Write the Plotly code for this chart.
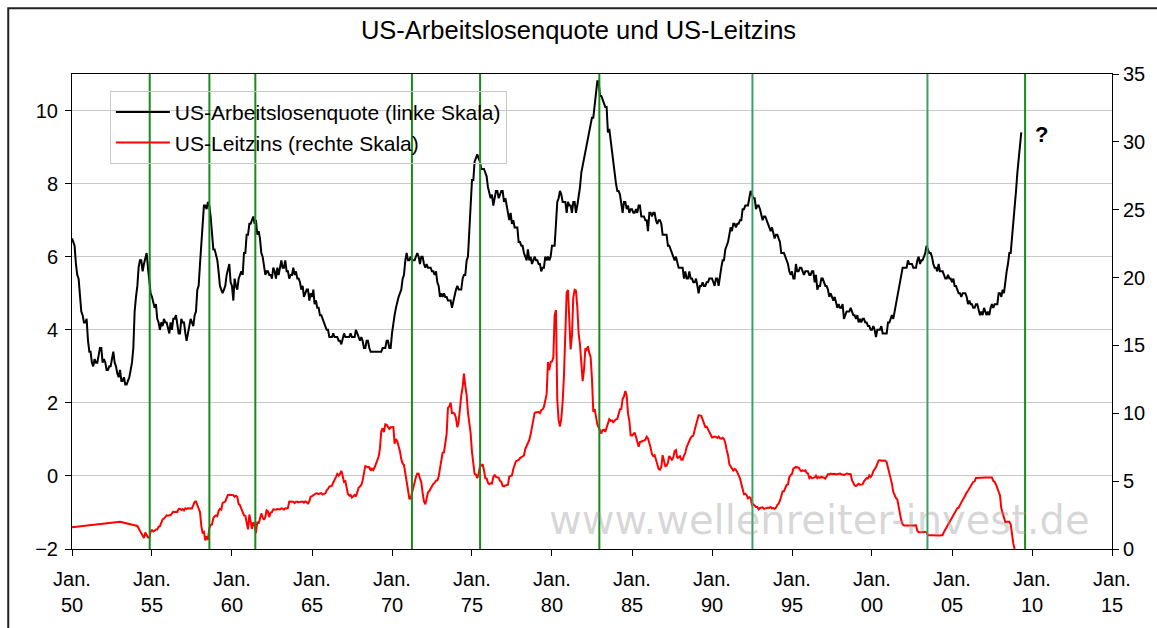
import pandas as pd
import plotly.graph_objects as go

# ---------------- data ----------------
# US unemployment rate (%), monthly, Jan 1950 .. May 2009 (left scale)
unemployment_rate = [
    6.5, 6.4, 6.3, 5.8, 5.5, 5.4, 5.0, 4.5, 4.4, 4.2, 4.2, 4.3,   # 1950
    3.7, 3.4, 3.4, 3.1, 3.0, 3.2, 3.1, 3.1, 3.3, 3.5, 3.5, 3.1,   # 1951
    3.2, 3.1, 2.9, 2.9, 3.0, 3.0, 3.2, 3.4, 3.1, 3.0, 2.8, 2.7,   # 1952
    2.9, 2.6, 2.6, 2.7, 2.5, 2.5, 2.6, 2.7, 2.9, 3.1, 3.5, 4.5,   # 1953
    4.9, 5.2, 5.7, 5.9, 5.9, 5.6, 5.8, 6.0, 6.1, 5.7, 5.3, 5.0,   # 1954
    4.9, 4.7, 4.6, 4.7, 4.3, 4.2, 4.0, 4.2, 4.1, 4.3, 4.2, 4.2,   # 1955
    4.0, 3.9, 4.2, 4.0, 4.3, 4.3, 4.4, 4.1, 3.9, 3.9, 4.3, 4.2,   # 1956
    4.2, 3.9, 3.7, 3.9, 4.1, 4.3, 4.2, 4.1, 4.4, 4.5, 5.1, 5.2,   # 1957
    5.8, 6.4, 6.7, 7.4, 7.4, 7.3, 7.5, 7.4, 7.1, 6.7, 6.2, 6.2,   # 1958
    6.0, 5.9, 5.6, 5.2, 5.1, 5.0, 5.1, 5.2, 5.5, 5.7, 5.8, 5.3,   # 1959
    5.2, 4.8, 5.4, 5.2, 5.1, 5.4, 5.5, 5.6, 5.5, 6.1, 6.1, 6.6,   # 1960
    6.6, 6.9, 6.9, 7.0, 7.1, 6.9, 7.0, 6.6, 6.7, 6.5, 6.1, 6.0,   # 1961
    5.8, 5.5, 5.6, 5.6, 5.5, 5.5, 5.4, 5.7, 5.6, 5.4, 5.7, 5.5,   # 1962
    5.7, 5.9, 5.7, 5.7, 5.9, 5.6, 5.6, 5.4, 5.5, 5.5, 5.7, 5.5,   # 1963
    5.6, 5.4, 5.4, 5.3, 5.1, 5.2, 4.9, 5.0, 5.1, 5.1, 4.8, 5.0,   # 1964
    4.9, 5.1, 4.7, 4.8, 4.6, 4.6, 4.4, 4.4, 4.3, 4.2, 4.1, 4.0,   # 1965
    4.0, 3.8, 3.8, 3.8, 3.9, 3.8, 3.8, 3.8, 3.7, 3.7, 3.6, 3.8,   # 1966
    3.9, 3.8, 3.8, 3.8, 3.8, 3.9, 3.8, 3.8, 3.8, 4.0, 3.9, 3.8,   # 1967
    3.7, 3.8, 3.7, 3.5, 3.5, 3.7, 3.7, 3.5, 3.4, 3.4, 3.4, 3.4,   # 1968
    3.4, 3.4, 3.4, 3.4, 3.4, 3.5, 3.5, 3.5, 3.7, 3.7, 3.5, 3.5,   # 1969
    3.9, 4.2, 4.4, 4.6, 4.8, 4.9, 5.0, 5.1, 5.4, 5.5, 5.9, 6.1,   # 1970
    5.9, 5.9, 6.0, 5.9, 5.9, 5.9, 6.0, 6.1, 6.0, 5.8, 6.0, 6.0,   # 1971
    5.8, 5.7, 5.8, 5.7, 5.7, 5.7, 5.6, 5.6, 5.5, 5.6, 5.3, 5.2,   # 1972
    4.9, 5.0, 4.9, 5.0, 4.9, 4.9, 4.8, 4.8, 4.8, 4.6, 4.8, 4.9,   # 1973
    5.1, 5.2, 5.1, 5.1, 5.1, 5.4, 5.5, 5.5, 5.9, 6.0, 6.6, 7.2,   # 1974
    8.1, 8.1, 8.6, 8.7, 8.8, 8.7, 8.6, 8.4, 8.4, 8.4, 8.3, 8.2,   # 1975
    7.9, 7.7, 7.6, 7.7, 7.4, 7.6, 7.8, 7.8, 7.6, 7.7, 7.8, 7.8,   # 1976
    7.5, 7.6, 7.4, 7.2, 7.0, 7.2, 6.9, 7.0, 6.8, 6.8, 6.8, 6.4,   # 1977
    6.4, 6.3, 6.3, 6.1, 6.0, 5.9, 6.2, 5.9, 6.0, 5.8, 5.9, 6.0,   # 1978
    5.9, 5.9, 5.8, 5.8, 5.6, 5.7, 5.7, 6.0, 5.9, 6.0, 5.9, 6.0,   # 1979
    6.3, 6.3, 6.3, 6.9, 7.5, 7.6, 7.8, 7.7, 7.5, 7.5, 7.5, 7.2,   # 1980
    7.5, 7.4, 7.4, 7.2, 7.5, 7.5, 7.2, 7.4, 7.6, 7.9, 8.3, 8.5,   # 1981
    8.6, 8.9, 9.0, 9.3, 9.4, 9.6, 9.8, 9.8, 10.1, 10.4, 10.8, 10.8,  # 1982
    10.4, 10.4, 10.3, 10.2, 10.1, 10.1, 9.4, 9.5, 9.2, 8.8, 8.5, 8.3,  # 1983
    8.0, 7.8, 7.8, 7.7, 7.4, 7.2, 7.5, 7.5, 7.3, 7.4, 7.2, 7.3,   # 1984
    7.3, 7.2, 7.2, 7.3, 7.2, 7.4, 7.4, 7.1, 7.1, 7.1, 7.0, 7.0,   # 1985
    6.7, 7.2, 7.2, 7.1, 7.2, 7.2, 7.0, 6.9, 7.0, 7.0, 6.9, 6.6,   # 1986
    6.6, 6.6, 6.6, 6.3, 6.3, 6.2, 6.1, 6.0, 5.9, 6.0, 5.8, 5.7,   # 1987
    5.7, 5.7, 5.7, 5.4, 5.6, 5.4, 5.4, 5.6, 5.4, 5.4, 5.3, 5.3,   # 1988
    5.4, 5.2, 5.0, 5.2, 5.2, 5.3, 5.2, 5.2, 5.3, 5.3, 5.4, 5.4,   # 1989
    5.4, 5.3, 5.2, 5.4, 5.4, 5.2, 5.5, 5.7, 5.9, 5.9, 6.2, 6.3,   # 1990
    6.4, 6.6, 6.8, 6.7, 6.9, 6.9, 6.8, 6.9, 6.9, 7.0, 7.0, 7.3,   # 1991
    7.3, 7.4, 7.4, 7.4, 7.6, 7.8, 7.7, 7.6, 7.6, 7.3, 7.4, 7.4,   # 1992
    7.3, 7.1, 7.0, 7.1, 7.1, 7.0, 6.9, 6.8, 6.7, 6.8, 6.6, 6.5,   # 1993
    6.6, 6.6, 6.5, 6.4, 6.1, 6.1, 6.1, 6.0, 5.9, 5.8, 5.6, 5.5,   # 1994
    5.6, 5.4, 5.4, 5.8, 5.6, 5.6, 5.7, 5.7, 5.6, 5.5, 5.6, 5.6,   # 1995
    5.6, 5.5, 5.5, 5.6, 5.6, 5.3, 5.5, 5.1, 5.2, 5.2, 5.4, 5.4,   # 1996
    5.3, 5.2, 5.2, 5.1, 4.9, 5.0, 4.9, 4.8, 4.9, 4.7, 4.6, 4.7,   # 1997
    4.6, 4.6, 4.7, 4.3, 4.4, 4.5, 4.5, 4.5, 4.6, 4.5, 4.4, 4.4,   # 1998
    4.3, 4.4, 4.2, 4.3, 4.2, 4.3, 4.3, 4.2, 4.2, 4.1, 4.1, 4.0,   # 1999
    4.0, 4.1, 4.0, 3.8, 4.0, 4.0, 4.0, 4.1, 3.9, 3.9, 3.9, 3.9,   # 2000
    4.2, 4.2, 4.3, 4.4, 4.3, 4.5, 4.6, 4.9, 5.0, 5.3, 5.5, 5.7,   # 2001
    5.7, 5.7, 5.7, 5.9, 5.8, 5.8, 5.8, 5.7, 5.7, 5.7, 5.9, 6.0,   # 2002
    5.8, 5.9, 5.9, 6.0, 6.1, 6.3, 6.2, 6.1, 6.1, 6.0, 5.8, 5.7,   # 2003
    5.7, 5.6, 5.8, 5.6, 5.6, 5.6, 5.5, 5.4, 5.4, 5.5, 5.4, 5.4,   # 2004
    5.3, 5.4, 5.2, 5.2, 5.1, 5.0, 5.0, 4.9, 5.0, 5.0, 5.0, 4.9,   # 2005
    4.7, 4.8, 4.7, 4.7, 4.6, 4.6, 4.7, 4.7, 4.5, 4.4, 4.5, 4.4,   # 2006
    4.6, 4.5, 4.4, 4.5, 4.4, 4.6, 4.7, 4.6, 4.7, 4.7, 4.7, 5.0,   # 2007
    5.0, 4.9, 5.1, 5.0, 5.4, 5.6, 5.8, 6.1, 6.1, 6.5, 6.8, 7.3,   # 2008
    7.8, 8.3, 8.7, 9.0, 9.4,                                      # 2009
]

# US key rate (%), early sparse readings 1950..1954 (right scale)
early_rate_dates = ["1950-01-01", "1953-01-01", "1954-02-01"]
early_rate_values = [1.6, 2.0, 1.7]

# US key rate (%), monthly, Jul 1954 .. Dec 2008 (right scale)
fed_funds_rate = [
    0.80, 1.22, 1.06, 0.85, 0.83, 1.28,                                    # 1954 H2
    1.39, 1.29, 1.35, 1.43, 1.43, 1.64, 1.68, 1.96, 2.18, 2.24, 2.35, 2.48,   # 1955
    2.45, 2.50, 2.50, 2.62, 2.75, 2.71, 2.75, 2.73, 2.95, 2.96, 2.88, 2.94,   # 1956
    2.84, 3.00, 2.96, 3.00, 3.00, 3.00, 2.99, 3.24, 3.47, 3.50, 3.28, 2.98,   # 1957
    2.72, 1.67, 1.20, 1.26, 0.63, 0.93, 0.68, 1.53, 1.76, 1.80, 2.27, 2.42,   # 1958
    2.48, 2.43, 2.80, 2.96, 2.90, 3.39, 3.47, 3.50, 3.76, 3.98, 4.00, 3.99,   # 1959
    3.99, 3.97, 3.84, 3.92, 3.85, 3.32, 3.23, 2.98, 2.60, 2.47, 2.44, 1.98,   # 1960
    1.45, 2.54, 2.02, 1.49, 1.98, 1.73, 1.17, 2.00, 1.88, 2.26, 2.62, 2.33,   # 1961
    2.15, 2.37, 2.85, 2.78, 2.36, 2.68, 2.71, 2.93, 2.90, 2.90, 2.94, 2.93,   # 1962
    2.92, 3.00, 2.98, 2.90, 3.00, 2.99, 3.02, 3.49, 3.48, 3.50, 3.48, 3.38,   # 1963
    3.48, 3.48, 3.43, 3.47, 3.50, 3.50, 3.42, 3.50, 3.45, 3.36, 3.52, 3.85,   # 1964
    3.90, 3.98, 4.04, 4.09, 4.10, 4.04, 4.09, 4.12, 4.01, 4.08, 4.10, 4.32,   # 1965
    4.42, 4.60, 4.65, 4.67, 4.90, 5.17, 5.30, 5.53, 5.40, 5.53, 5.76, 5.40,   # 1966
    4.94, 5.00, 4.53, 4.05, 3.94, 3.98, 3.79, 3.90, 3.99, 3.88, 4.13, 4.51,   # 1967
    4.61, 4.71, 5.05, 5.76, 6.11, 6.07, 6.02, 6.03, 5.78, 5.91, 5.82, 6.02,   # 1968
    6.30, 6.61, 6.79, 7.41, 8.67, 8.90, 8.61, 9.19, 9.15, 9.00, 8.85, 8.97,   # 1969
    8.98, 8.98, 7.76, 8.10, 7.95, 7.61, 7.21, 6.62, 6.29, 6.20, 5.60, 4.90,   # 1970
    4.14, 3.72, 3.71, 4.16, 4.63, 4.91, 5.31, 5.56, 5.55, 5.20, 4.91, 4.14,   # 1971
    3.50, 3.29, 3.83, 4.17, 4.27, 4.46, 4.55, 4.80, 4.87, 5.04, 5.06, 5.33,   # 1972
    5.94, 6.58, 7.09, 7.12, 7.84, 8.49, 10.40, 10.50, 10.78, 10.01, 10.03, 9.95,  # 1973
    9.65, 8.97, 9.35, 10.51, 11.31, 11.93, 12.92, 12.01, 11.34, 10.06, 9.45, 8.53,  # 1974
    7.13, 6.24, 5.54, 5.49, 5.22, 5.55, 6.10, 6.14, 6.24, 5.82, 5.22, 5.20,   # 1975
    4.87, 4.77, 4.84, 4.82, 5.29, 5.48, 5.31, 5.29, 5.25, 5.02, 4.95, 4.65,   # 1976
    4.61, 4.68, 4.69, 4.73, 5.35, 5.39, 5.42, 5.90, 6.14, 6.47, 6.51, 6.56,   # 1977
    6.70, 6.78, 6.79, 6.89, 7.36, 7.60, 7.81, 8.04, 8.45, 8.96, 9.76, 10.03,  # 1978
    10.07, 10.06, 10.09, 10.01, 10.24, 10.29, 10.47, 10.94, 11.43, 13.77, 13.18, 13.78,  # 1979
    13.82, 14.13, 17.19, 17.61, 10.98, 9.47, 9.03, 9.61, 10.87, 12.81, 15.85, 18.90,  # 1980
    19.08, 15.93, 14.70, 15.72, 18.52, 19.10, 19.04, 17.82, 15.87, 15.08, 13.31, 12.37,  # 1981
    13.22, 14.78, 14.68, 14.94, 14.45, 14.15, 12.59, 10.12, 10.31, 9.71, 9.20, 8.95,  # 1982
    8.68, 8.51, 8.77, 8.80, 8.63, 8.98, 9.37, 9.56, 9.45, 9.48, 9.34, 9.47,   # 1983
    9.56, 9.59, 9.91, 10.29, 10.32, 11.06, 11.23, 11.64, 11.30, 9.99, 9.43, 8.38,  # 1984
    8.35, 8.50, 8.58, 8.27, 7.97, 7.53, 7.88, 7.90, 7.92, 7.99, 8.05, 8.27,   # 1985
    8.14, 7.86, 7.48, 6.99, 6.85, 6.92, 6.56, 6.17, 5.89, 5.85, 6.04, 6.91,   # 1986
    6.43, 6.10, 6.13, 6.37, 6.85, 6.73, 6.58, 6.73, 7.22, 7.29, 6.69, 6.77,   # 1987
    6.83, 6.58, 6.58, 6.87, 7.09, 7.51, 7.75, 8.01, 8.19, 8.30, 8.35, 8.76,   # 1988
    9.12, 9.36, 9.85, 9.84, 9.81, 9.53, 9.24, 8.99, 9.02, 8.84, 8.55, 8.45,   # 1989
    8.23, 8.24, 8.28, 8.26, 8.18, 8.29, 8.15, 8.13, 8.20, 8.11, 7.81, 7.31,   # 1990
    6.91, 6.25, 6.12, 5.91, 5.78, 5.90, 5.82, 5.66, 5.45, 5.21, 4.81, 4.43,   # 1991
    4.03, 4.06, 3.98, 3.73, 3.82, 3.76, 3.25, 3.30, 3.22, 3.10, 3.09, 2.92,   # 1992
    3.02, 3.03, 3.07, 2.96, 3.00, 3.04, 3.06, 3.03, 3.09, 2.99, 3.02, 2.96,   # 1993
    3.05, 3.25, 3.34, 3.56, 4.01, 4.25, 4.26, 4.47, 4.73, 4.76, 5.29, 5.45,   # 1994
    5.53, 5.92, 5.98, 6.05, 6.01, 6.00, 5.85, 5.74, 5.80, 5.76, 5.80, 5.60,   # 1995
    5.56, 5.22, 5.31, 5.22, 5.24, 5.27, 5.40, 5.22, 5.30, 5.24, 5.31, 5.29,   # 1996
    5.25, 5.19, 5.39, 5.51, 5.50, 5.56, 5.52, 5.54, 5.54, 5.50, 5.52, 5.50,   # 1997
    5.56, 5.51, 5.49, 5.45, 5.49, 5.56, 5.54, 5.55, 5.51, 5.07, 4.83, 4.68,   # 1998
    4.63, 4.76, 4.81, 4.74, 4.74, 4.76, 4.99, 5.07, 5.22, 5.20, 5.42, 5.30,   # 1999
    5.45, 5.73, 5.85, 6.02, 6.27, 6.53, 6.54, 6.50, 6.52, 6.51, 6.51, 6.40,   # 2000
    5.98, 5.49, 5.31, 4.80, 4.21, 3.97, 3.77, 3.65, 3.07, 2.49, 2.09, 1.82,   # 2001
    1.73, 1.74, 1.73, 1.75, 1.75, 1.75, 1.73, 1.74, 1.75, 1.75, 1.34, 1.24,   # 2002
    1.24, 1.26, 1.25, 1.26, 1.26, 1.22, 1.01, 1.03, 1.01, 1.01, 1.00, 0.98,   # 2003
    1.00, 1.01, 1.00, 1.00, 1.00, 1.03, 1.26, 1.43, 1.61, 1.76, 1.93, 2.16,   # 2004
    2.28, 2.50, 2.63, 2.79, 3.00, 3.04, 3.26, 3.50, 3.62, 3.78, 4.00, 4.16,   # 2005
    4.29, 4.49, 4.59, 4.79, 4.94, 4.99, 5.24, 5.25, 5.25, 5.25, 5.25, 5.24,   # 2006
    5.25, 5.26, 5.26, 5.25, 5.25, 5.25, 5.26, 5.02, 4.94, 4.76, 4.49, 4.24,   # 2007
    3.94, 2.98, 2.61, 2.28, 1.98, 2.00, 2.01, 2.00, 1.81, 0.97, 0.39, 0.0,    # 2008
]

# dates of the vertical green marker lines (unemployment peaks)
marker_dates = ["1954-11-10", "1958-08-03", "1961-06-17", "1971-04-01", "1975-07-05",
                "1982-12-17", "1992-07-12", "2003-06-20", "2009-07-27"]
marker_colors = ["#1a8a1a", "#1a8a1a", "#1a8a1a", "#1a8a1a", "#1a8a1a",
                 "#1a8a1a", "#3c9f66", "#3c9f66", "#1a8a1a"]

tick_years = list(range(1950, 2016, 5))
tick_labels = ["Jan.<br>" + str(y)[-2:] for y in tick_years]

# ---------------- figure ----------------
ur_dates = pd.date_range("1950-01-01", periods=len(unemployment_rate), freq="MS")
ff_dates = list(pd.to_datetime(early_rate_dates)) + list(
    pd.date_range("1954-07-01", periods=len(fed_funds_rate), freq="MS"))
ff_values = early_rate_values + fed_funds_rate

FONT = "Liberation Sans, Arial, sans-serif"

fig = go.Figure()
fig.add_trace(go.Scatter(x=ur_dates, y=unemployment_rate, mode="lines",
                         name="US-Arbeitslosenquote (linke Skala)",
                         line=dict(color="black", width=2), yaxis="y"))
fig.add_trace(go.Scatter(x=ff_dates, y=ff_values, mode="lines",
                         name="US-Leitzins (rechte Skala)",
                         line=dict(color="#ff0000", width=2), yaxis="y2"))

shapes = []
for d, c in zip(marker_dates, marker_colors):
    shapes.append(dict(type="line", xref="x", yref="paper", x0=d, x1=d, y0=0, y1=1,
                       line=dict(color=c, width=2)))
# outer chart frame
shapes.append(dict(type="rect", xref="paper", yref="paper",
                   x0=(8 - 72) / 1044, x1=(1170 - 72) / 1044,
                   y0=(550 - 650) / 476, y1=(550 - 8) / 476,
                   line=dict(color="#222222", width=2), layer="below"))

fig.update_layout(
    width=1157, height=628,
    margin=dict(l=72, r=41, t=74, b=78),
    paper_bgcolor="white", plot_bgcolor="white",
    font=dict(family=FONT, size=20, color="black"),
    title=dict(text="US-Arbeitslosenquote und US-Leitzins", x=0.5, xanchor="center",
               y=1 - 30 / 628, yanchor="middle", font=dict(size=25.5, family=FONT)),
    xaxis=dict(type="date", range=["1950-01-01", "2015-01-01"],
               tickmode="array", tickvals=[f"{y}-01-01" for y in tick_years],
               ticktext=tick_labels, ticks="outside", ticklen=6, tickcolor="black",
               ticklabelstandoff=6,
               showline=True, linecolor="black", linewidth=1, mirror=True,
               showgrid=False, zeroline=False, tickfont=dict(size=20)),
    yaxis=dict(range=[-2, 11], tickvals=[-2, 0, 2, 4, 6, 8, 10], ticks="outside",
               ticklen=6, tickcolor="black", showline=True, linecolor="black",
               linewidth=1, showgrid=True, gridcolor="#c8c8c8", gridwidth=1,
               ticklabelstandoff=3,
               zeroline=False, tickfont=dict(size=20)),
    yaxis2=dict(range=[0, 35], tickvals=[0, 5, 10, 15, 20, 25, 30, 35], overlaying="y",
                side="right", ticks="outside", ticklen=6, tickcolor="black",
                showline=True, linecolor="black", linewidth=1, showgrid=False,
                zeroline=False, tickfont=dict(size=20)),
    legend=dict(x=(110 - 72) / 1044, y=(550 - 91) / 476, xanchor="left", yanchor="top",
                bgcolor="rgba(255,255,255,0)", bordercolor="#c8c8c8", borderwidth=1,
                itemwidth=54, font=dict(size=21, family=FONT), tracegroupgap=0),
    shapes=shapes,
    showlegend=True,
)

fig.add_annotation(x="2010-08-01", y=9.35, xref="x", yref="y", text="<b>?</b>",
                   showarrow=False, font=dict(size=22, family=FONT, color="black"))
fig.add_annotation(x=(822 - 72) / 1044, y=(550 - 521) / 476, xref="paper", yref="paper",
                   xanchor="center", yanchor="middle",
                   text="www.wellenreiter-invest.de", showarrow=False,
                   font=dict(size=40, family="DejaVu Sans, Verdana, sans-serif",
                             color="rgba(150,150,150,0.38)"))

fig.write_html("out.html", config={"displayModeBar": False},
               post_script="document.body.style.margin='0';")
